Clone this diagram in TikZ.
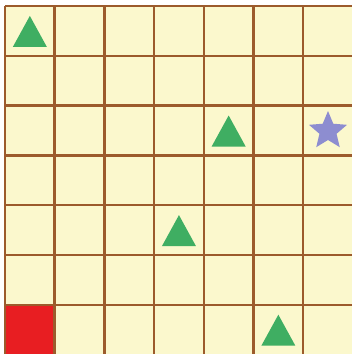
\documentclass[tikz,border=0pt]{standalone}
\definecolor{cellbg}{HTML}{FBF8CD}
\definecolor{gridline}{HTML}{9C5B2C}
\definecolor{trigreen}{HTML}{3FAE62}
\definecolor{starblue}{HTML}{8D8DD0}
\definecolor{goalred}{HTML}{E81E22}
\tikzset{
  gridln/.style={draw=gridline, line width=0.62mm},
  tri/.style={fill=trigreen},
  starfill/.style={fill=starblue},
}
\begin{document}
\begin{tikzpicture}[x=0.25mm,y=-0.25mm]
\useasboundingbox (0,0) rectangle (352,354);
\fill[white] (0,0) rectangle (352,354);
\fill[cellbg] (5,6) rectangle (352,354);
% red square
\fill[goalred] (5,305) rectangle (54.7,354);
% grid
\foreach \i in {0,...,6} {
  \draw[gridln] ({5+49.7*\i},6) -- ({5+49.7*\i},354);
  \draw[gridln] (5,{6+49.8*\i}) -- (352,{6+49.8*\i});
}
% cell centers
\foreach \c/\r/\n in {0/0/t1,4/2/t2,3/4/t3,5/6/t4} {
  \coordinate (\n) at ({5+49.7*\c+24.85},{6+49.8*\r+24.9});
}
\coordinate (s) at (328,131);
\foreach \n in {t1,t2,t3,t4} {
  \fill[tri] (\n) ++(-17,16) -- ++(17,-31) -- ++(17,31) -- cycle;
}
% star
\begin{scope}[shift={(s)}]
\fill[starfill] (-90:20)
  -- (-54:9) -- (-18:20) -- (18:9) -- (54:20) -- (90:9)
  -- (126:20) -- (162:9) -- (198:20) -- (234:9) -- cycle;
\end{scope}
\end{tikzpicture}
\end{document}
